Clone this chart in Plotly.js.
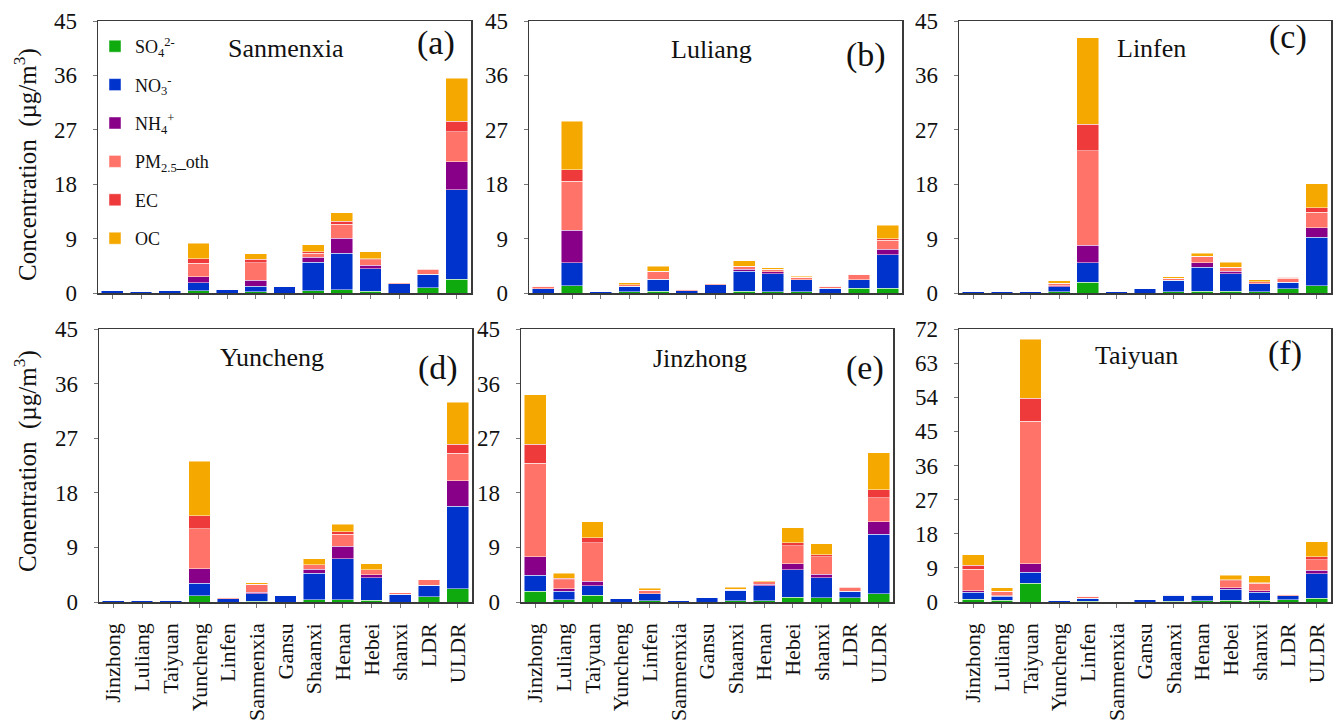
<!DOCTYPE html>
<html>
<head>
<meta charset="utf-8">
<script src="https://cdn.plot.ly/plotly-3.0.1.min.js"></script>
<style>html,body{margin:0;padding:0;background:#fff;}#chart{width:1333px;height:723px;}</style>
</head>
<body>
<div id="chart"></div>
<script>
// ---- categories ----
const categories = ["Jinzhong","Luliang","Taiyuan","Yuncheng","Linfen","Sanmenxia","Gansu","Shaanxi","Henan","Hebei","shanxi","LDR","ULDR"];

// ---- (a) Sanmenxia ----
const SO4_a = [0, 0, 0, 0.4, 0, 0.2, 0, 0.4, 0.5, 0.3, 0, 0.9, 2.3];
const NO3_a = [0.4, 0.3, 0.4, 1.3, 0.5, 0.9, 1.0, 4.7, 6.1, 3.7, 1.5, 2.2, 14.8];
const NH4_a = [0, 0, 0, 1.0, 0, 1.0, 0, 0.8, 2.5, 0.6, 0, 0, 4.6];
const OTH_a = [0, 0, 0, 2.2, 0.1, 2.9, 0, 0.7, 2.3, 0.9, 0.2, 0.8, 5.0];
const EC_a  = [0, 0, 0, 0.8, 0, 0.6, 0, 0.2, 0.5, 0.2, 0, 0.1, 1.7];
const OC_a  = [0, 0, 0, 2.5, 0, 0.9, 0, 1.2, 1.4, 1.1, 0, 0, 7.1];

// ---- (b) Luliang ----
const SO4_b = [0, 1.2, 0, 0.2, 0.3, 0, 0, 0.3, 0.2, 0.2, 0, 0.8, 0.8];
const NO3_b = [0.7, 3.8, 0.2, 0.9, 2.0, 0.4, 1.4, 3.3, 3.0, 2.0, 0.8, 1.4, 5.5];
const NH4_b = [0, 5.4, 0, 0, 0, 0, 0, 0.3, 0.3, 0, 0, 0, 0.9];
const OTH_b = [0.4, 8.1, 0, 0.3, 1.3, 0.2, 0.1, 0.5, 0.4, 0.4, 0.3, 0.9, 1.5];
const EC_b  = [0, 1.9, 0, 0, 0, 0, 0, 0, 0, 0, 0, 0, 0.3];
const OC_b  = [0.1, 8.0, 0, 0.3, 0.8, 0, 0, 0.9, 0.3, 0.2, 0.1, 0, 2.2];

// ---- (c) Linfen ----
const SO4_c = [0, 0, 0, 0.2, 1.8, 0, 0, 0.2, 0.3, 0.3, 0.2, 0.7, 1.2];
const NO3_c = [0.2, 0.3, 0.2, 0.8, 3.2, 0.2, 0.8, 1.9, 4.0, 2.9, 1.3, 1.1, 8.0];
const NH4_c = [0, 0, 0, 0.2, 2.9, 0, 0, 0, 0.7, 0.4, 0, 0, 1.6];
const OTH_c = [0, 0, 0, 0.4, 15.6, 0, 0, 0.3, 1.1, 0.7, 0.4, 0.6, 2.6];
const EC_c  = [0, 0, 0, 0, 4.4, 0, 0, 0, 0, 0, 0, 0.2, 0.7];
const OC_c  = [0, 0, 0, 0.4, 14.3, 0, 0, 0.3, 0.5, 0.8, 0.3, 0, 4.0];

// ---- (d) Yuncheng ----
const SO4_d = [0, 0, 0, 1.0, 0, 0.1, 0, 0.4, 0.4, 0.3, 0, 0.9, 2.2];
const NO3_d = [0.3, 0.3, 0.3, 2.1, 0.5, 1.3, 1.0, 4.3, 6.7, 3.7, 1.3, 1.9, 13.6];
const NH4_d = [0, 0, 0, 2.4, 0, 0.2, 0, 0.7, 2.1, 0.5, 0, 0, 4.2];
const OTH_d = [0, 0, 0, 6.6, 0.3, 1.3, 0, 0.7, 2.0, 0.8, 0.2, 0.9, 4.5];
const EC_d  = [0, 0, 0, 2.1, 0, 0, 0, 0, 0.4, 0, 0, 0, 1.5];
const OC_d  = [0, 0, 0, 9.0, 0, 0.3, 0, 1.0, 1.2, 1.0, 0, 0, 6.9];

// ---- (e) Jinzhong ----
const SO4_e = [1.8, 0.4, 1.1, 0, 0.2, 0, 0, 0.2, 0.2, 0.8, 0.7, 0.7, 1.4];
const NO3_e = [2.6, 1.4, 1.6, 0.55, 1.2, 0.25, 0.7, 1.7, 2.5, 4.5, 3.3, 1.1, 9.8];
const NH4_e = [3.1, 0.4, 0.7, 0, 0, 0, 0, 0, 0.2, 1.0, 0.6, 0, 2.0];
const OTH_e = [15.4, 1.5, 6.4, 0, 0.5, 0, 0, 0.2, 0.4, 3.0, 2.9, 0.6, 4.0];
const EC_e  = [3.1, 0.2, 0.8, 0, 0, 0, 0, 0, 0, 0.5, 0.3, 0.1, 1.3];
const OC_e  = [8.2, 0.8, 2.6, 0, 0.4, 0, 0, 0.3, 0.2, 2.4, 1.8, 0, 6.1];

// ---- (f) Taiyuan ----
const SO4_f = [0.7, 0.4, 5.0, 0, 0.2, 0, 0, 0.2, 0.3, 0.5, 0.5, 0.6, 1.0];
const NO3_f = [1.9, 1.1, 2.8, 0.4, 0.8, 0.1, 0.6, 1.6, 1.5, 2.8, 2.1, 1.0, 6.5];
const NH4_f = [0.4, 0.2, 2.3, 0, 0, 0, 0, 0, 0, 0.4, 0.4, 0, 0.9];
const OTH_f = [5.7, 1.2, 37.6, 0, 0.5, 0, 0, 0.2, 0.2, 1.9, 1.9, 0.4, 2.7];
const EC_f  = [1.0, 0, 6.0, 0, 0, 0, 0, 0, 0, 0.3, 0.2, 0, 0.8];
const OC_f  = [2.8, 0.8, 15.6, 0, 0.2, 0, 0, 0.2, 0.2, 1.1, 1.8, 0.1, 4.0];

// ---- series labels / colours ----
const seriesNames = ["SO<sub>4</sub><sup>2-</sup>", "NO<sub>3</sub><sup>-</sup>", "NH<sub>4</sub><sup>+</sup>", "PM<sub>2.5</sub>_oth", "EC", "OC"];
const seriesColors = ["#0EAA0E", "#0033CC", "#880088", "#FF7368", "#EE3A3A", "#F5A800"];

// ---- panels ----
const panelNames = ["Sanmenxia", "Luliang", "Linfen", "Yuncheng", "Jinzhong", "Taiyuan"];
const panelTags = ["(a)", "(b)", "(c)", "(d)", "(e)", "(f)"];
const panelYMax = [45, 45, 45, 45, 45, 72];
const panelData = [
  [SO4_a, NO3_a, NH4_a, OTH_a, EC_a, OC_a],
  [SO4_b, NO3_b, NH4_b, OTH_b, EC_b, OC_b],
  [SO4_c, NO3_c, NH4_c, OTH_c, EC_c, OC_c],
  [SO4_d, NO3_d, NH4_d, OTH_d, EC_d, OC_d],
  [SO4_e, NO3_e, NH4_e, OTH_e, EC_e, OC_e],
  [SO4_f, NO3_f, NH4_f, OTH_f, EC_f, OC_f]
];

const W = 1333, H = 723;
const px = v => v / W;
const py = v => 1 - v / H;

// panel frames in pixels [left, right, top, bottom]
const frames = [
  [98, 471, 21, 293],
  [529, 902, 21, 293],
  [959, 1331, 21, 293],
  [99, 472, 329, 602],
  [521, 893, 329, 602],
  [959, 1331, 329, 602]
];

const FONT = "Liberation Serif, Times New Roman, serif";
const traces = [];
panelData.forEach((series, p) => {
  const sfx = p === 0 ? "" : String(p + 1);
  series.forEach((vals, s) => {
    traces.push({
      type: "bar",
      x: categories,
      y: vals,
      name: seriesNames[s],
      legendgroup: "g" + s,
      showlegend: p === 0,
      xaxis: "x" + sfx,
      yaxis: "y" + sfx,
      marker: { color: seriesColors[s], line: { color: "rgba(255,255,255,0.6)", width: 0.8 } },
      hoverinfo: "x+y+name"
    });
  });
});

const layout = {
  width: W, height: H,
  margin: { l: 0, r: 0, t: 0, b: 0 },
  paper_bgcolor: "#fff", plot_bgcolor: "#fff",
  barmode: "stack",
  bargap: 0.24,
  font: { family: FONT, color: "#111" },
  legend: {
    x: px(95), y: py(28), xanchor: "left", yanchor: "top",
    bgcolor: "rgba(0,0,0,0)",
    font: { family: FONT, size: 18, color: "#111" },
    traceorder: "grouped",
    tracegroupgap: 12
  },
  annotations: [],
  showlegend: true
};

frames.forEach((f, p) => {
  const sfx = p === 0 ? "" : String(p + 1);
  const bottomRow = p >= 3;
  layout["xaxis" + sfx] = {
    domain: [px(f[0]), px(f[1])],
    anchor: "y" + sfx,
    type: "category",
    showline: true, mirror: true, linecolor: "#3a3a3a", linewidth: 1.5,
    ticks: "outside", ticklen: 4, tickcolor: "#777",
    showgrid: false, zeroline: false,
    showticklabels: bottomRow,
    tickangle: -90,
    ticklabelstandoff: 7,
    tickfont: { family: FONT, size: 22, color: "#111" },
    automargin: false,
    fixedrange: true
  };
  const ymax = panelYMax[p];
  const tv = [];
  for (let v = 0; v <= ymax; v += 9) tv.push(v);
  layout["yaxis" + sfx] = {
    domain: [py(f[3]), py(f[2])],
    anchor: "x" + sfx,
    range: [0, ymax],
    tickvals: tv,
    ticktext: tv.map(String),
    showline: true, mirror: true, linecolor: "#3a3a3a", linewidth: 1.5,
    ticks: "outside", ticklen: 4, tickcolor: "#777",
    showgrid: false, zeroline: false,
    ticklabelstandoff: 11,
    tickfont: { family: FONT, size: 23, color: "#111" },
    automargin: false,
    fixedrange: true
  };
});

// panel names & tags (pixel positions of the text centres)
const namePos = [[286, 49], [711, 50], [1151, 49], [272, 357], [700, 358], [1136, 355]];
const tagPos = [[436, 43], [866, 55], [1288, 37], [438, 368], [865, 368], [1285, 353]];
panelNames.forEach((n, p) => {
  layout.annotations.push({
    text: n, xref: "paper", yref: "paper",
    x: px(namePos[p][0]), y: py(namePos[p][1]),
    xanchor: "center", yanchor: "middle", showarrow: false,
    font: { family: FONT, size: 26, color: "#111" }
  });
  layout.annotations.push({
    text: panelTags[p], xref: "paper", yref: "paper",
    x: px(tagPos[p][0]), y: py(tagPos[p][1]),
    xanchor: "center", yanchor: "middle", showarrow: false,
    font: { family: FONT, size: 34, color: "#111" }
  });
});

// y-axis titles
layout.annotations.push({
  text: "Concentration  (\u00b5g/m<sup>3</sup>)", xref: "paper", yref: "paper",
  x: px(26), y: py(165), xanchor: "center", yanchor: "middle", textangle: -90,
  showarrow: false, font: { family: FONT, size: 25, color: "#111" }
});
layout.annotations.push({
  text: "Conentration  (\u00b5g/m<sup>3</sup>)", xref: "paper", yref: "paper",
  x: px(26), y: py(461), xanchor: "center", yanchor: "middle", textangle: -90,
  showarrow: false, font: { family: FONT, size: 25, color: "#111" }
});

Plotly.newPlot("chart", traces, layout, { staticPlot: true, displayModeBar: false });
</script>
</body>
</html>
